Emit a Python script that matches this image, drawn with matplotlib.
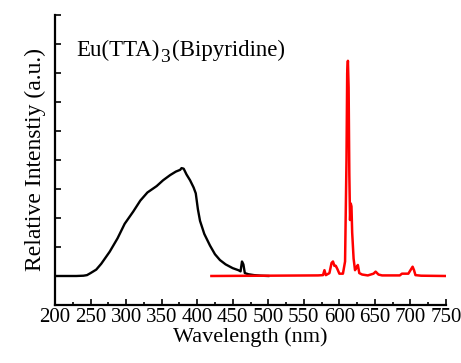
import numpy as np
import matplotlib
matplotlib.use("Agg")
import matplotlib.pyplot as plt
from matplotlib.ticker import MultipleLocator

plt.rcParams['font.family'] = ['Liberation Serif', 'DejaVu Serif']

# excitation spectrum (black)
exc_nm = [200, 230, 240, 245, 250, 258, 265, 277, 288, 298, 310, 320, 330,
          343, 352, 362, 370, 376, 378, 381, 385, 390, 395, 398, 401, 404, 410,
          418, 425, 432, 440, 450, 458, 461, 463, 465, 467, 472, 480, 490, 500]
exc_int = [0, 0, 0.01, 0.03, 0.1, 0.22, 0.42, 0.84, 1.3, 1.8, 2.22, 2.6, 2.88,
           3.1, 3.3, 3.48, 3.6, 3.66, 3.72, 3.7, 3.5, 3.3, 3.05, 2.85, 2.3, 1.9, 1.45,
           1.05, 0.75, 0.55, 0.4, 0.27, 0.2, 0.16, 0.5, 0.4, 0.1, 0.06, 0.03, 0.01, 0]

# emission spectrum (red)
em_nm = [420, 570, 577, 579, 581, 586, 589, 591, 593, 595, 597, 600, 605, 608,
         610, 611, 612, 613, 614, 615, 616, 617, 618, 620, 622, 624, 626, 628,
         632, 640, 648, 651, 655, 660, 685, 688, 692, 697, 700, 703, 705, 707, 715, 750]
em_int = [0, 0.02, 0.03, 0.2, 0.03, 0.1, 0.45, 0.5, 0.35, 0.35, 0.25, 0.08, 0.08, 0.5,
          4, 7, 7.42, 6.5, 3.5, 1.93, 2.5, 2.4, 1.5, 0.6, 0.2, 0.3, 0.38, 0.1,
          0.05, 0.02, 0.08, 0.15, 0.05, 0.02, 0.02, 0.08, 0.08, 0.08, 0.2, 0.32, 0.2, 0.03, 0.01, 0]

fig = plt.figure(figsize=(4.61, 3.63), dpi=100)
ax = fig.add_axes([0.1193, 0.1598, 0.8482, 0.7989])

ax.plot(exc_nm, exc_int, color='black', lw=1.7)
ax.plot(em_nm, em_int, color='#ff0000', lw=1.8)

ax.set_xlim(200, 750)
ax.set_ylim(-1, 9)
ax.xaxis.set_major_locator(MultipleLocator(50))
ax.xaxis.set_minor_locator(MultipleLocator(25))
ax.yaxis.set_major_locator(MultipleLocator(1))
ax.set_yticklabels([])
ax.tick_params(axis='both', which='both', direction='in', width=1.2)
ax.tick_params(axis='x', which='major', length=4, labelsize=15, pad=2)
ax.tick_params(axis='x', which='minor', length=2.5)
ax.tick_params(axis='y', which='major', length=4)

for s in ['top', 'right']:
    ax.spines[s].set_visible(False)
for s in ['left', 'bottom']:
    ax.spines[s].set_linewidth(1.6)

ax.set_xlabel('Wavelength (nm)', fontsize=16, labelpad=0)
ax.set_ylabel('Relative Intenstiy (a.u.)', fontsize=17, labelpad=3)

# title built from pieces so the "3" sits low and fairly large
t1 = ax.text(0.055, 0.86, 'Eu(TTA)', transform=ax.transAxes, fontsize=16.5)
t2 = ax.annotate('3', xy=(1, 0), xycoords=t1, xytext=(0, -4),
                 textcoords='offset points', fontsize=14, va='bottom')
ax.annotate('(Bipyridine)', xy=(1, 0), xycoords=t1, xytext=(9, 0),
            textcoords='offset points', fontsize=16.5, va='bottom')

fig.savefig('out.png', dpi=100)
